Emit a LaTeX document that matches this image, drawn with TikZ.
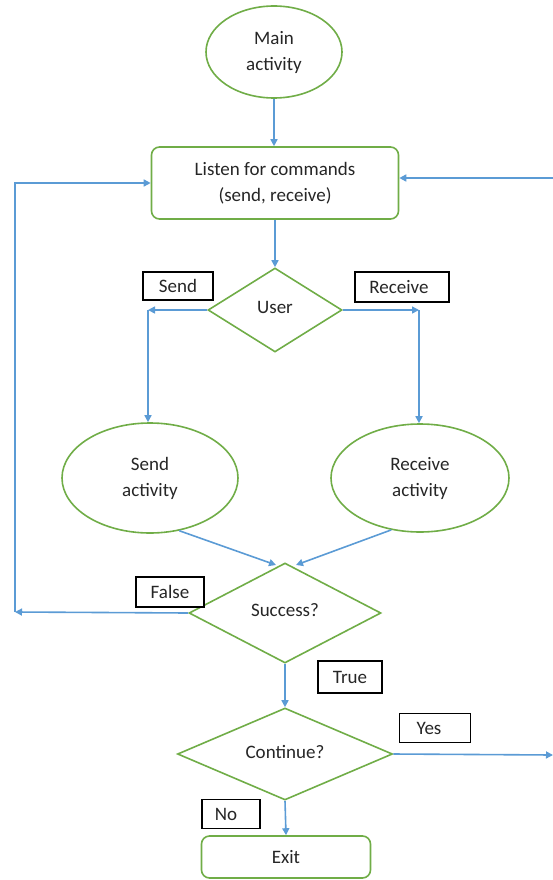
\documentclass[tikz,border=0pt]{standalone}
\usepackage{fontspec}
\setmainfont{Carlito}
\usetikzlibrary{shapes.geometric,arrows.meta,calc}
\definecolor{lblue}{HTML}{5B9BD5}
\definecolor{lgreen}{HTML}{70AD47}
\definecolor{txt}{HTML}{262626}
\begin{document}
\begin{tikzpicture}[x=1pt,y=-1pt,
  font=\fontsize{19}{26}\selectfont, text=txt,
  ell/.style={ellipse, draw=lgreen, line width=1.6pt, fill=white, align=center, inner sep=0pt},
  rbox/.style={rectangle, rounded corners=8pt, draw=lgreen, line width=1.6pt, fill=white, align=center},
  dia/.style={diamond, draw=lgreen, line width=1.6pt, fill=white, inner sep=0pt, align=center},
  lbl/.style={rectangle, draw=black, line width=1.3pt, fill=white, inner sep=0pt},
  arr/.style={draw=lblue, line width=1.6pt, -{Triangle[length=7pt,width=7pt]}}]
\useasboundingbox (0,0) rectangle (553,880);

% nodes
\node[ell, minimum width=136pt, minimum height=92pt] (main) at (274,52) {Main\\activity};
\node[rbox, minimum width=247pt, minimum height=72pt] (listen) at (275,183) {\raisebox{0pt}{Listen for commands}\\(send, receive)};
\node[dia, minimum width=134pt, minimum height=84pt, aspect=1.6] (user) at (275,310) {\raisebox{6pt}{User}};
\node[ell, minimum width=176pt, minimum height=110pt] (sendact) at (150,478) {Send\\activity};
\node[ell, minimum width=178pt, minimum height=108pt] (recvact) at (420,478) {Receive\\activity};
\node[dia, minimum width=192pt, minimum height=100pt, aspect=1.9] (succ) at (285,613) {\raisebox{6pt}{Success?}};
\node[dia, minimum width=215pt, minimum height=92pt, aspect=2.3] (cont) at (285,754) {\raisebox{4pt}{Continue?}};
\node[rbox, minimum width=169pt, minimum height=42pt] (exit) at (286,857) {Exit};

% labels
\node[lbl, minimum width=70pt, minimum height=28pt] (lsend) at (178,286) {Send};
\node[lbl, minimum width=94pt, minimum height=30pt] (lrecv) at (402,287) {\hspace*{-6pt}Receive};
\node[lbl, minimum width=68pt, minimum height=30pt] (lfalse) at (170,592) {False};
\node[lbl, minimum width=64pt, minimum height=32pt] (ltrue) at (350,677) {True};
\node[lbl, minimum width=71pt, minimum height=29pt] (lyes) at (435,728) {\hspace*{-12pt}Yes};
\node[lbl, minimum width=58pt, minimum height=29pt] (lno) at (231,814) {\hspace*{-10pt}No};

% coordinates
\coordinate (sc) at (148,310);
\coordinate (rc) at (419,310);
\coordinate (sL) at (276,565);
\coordinate (sR) at (296,565);
\coordinate (fl) at (15,612);
\coordinate (rr) at (553,178);
\coordinate (ye) at (553,755);

% connectors
\draw[arr] (main.south) -- (main.south |- listen.north);
\draw[arr] (listen.south) -- (user.north);
\draw[arr] (user.west) -- (sc);
\draw[arr] (sc) -- (sc |- sendact.north);
\draw[arr] (user.east) -- (rc);
\draw[arr] (rc) -- (rc |- recvact.north);
\draw[arr] (sendact.-61) -- (sL);
\draw[arr] (recvact.-119) -- (sR);
\draw[arr] (succ.west) -- (fl);
\draw[arr] (fl) |- (listen.west);
\draw[arr] (rr) -- (rr -| listen.east);
\draw[arr] (succ.south) -- (cont.north);
\draw[arr] (cont.east) -- (ye);
\draw[arr] (cont.south) -- (exit.north);
\end{tikzpicture}
\end{document}
